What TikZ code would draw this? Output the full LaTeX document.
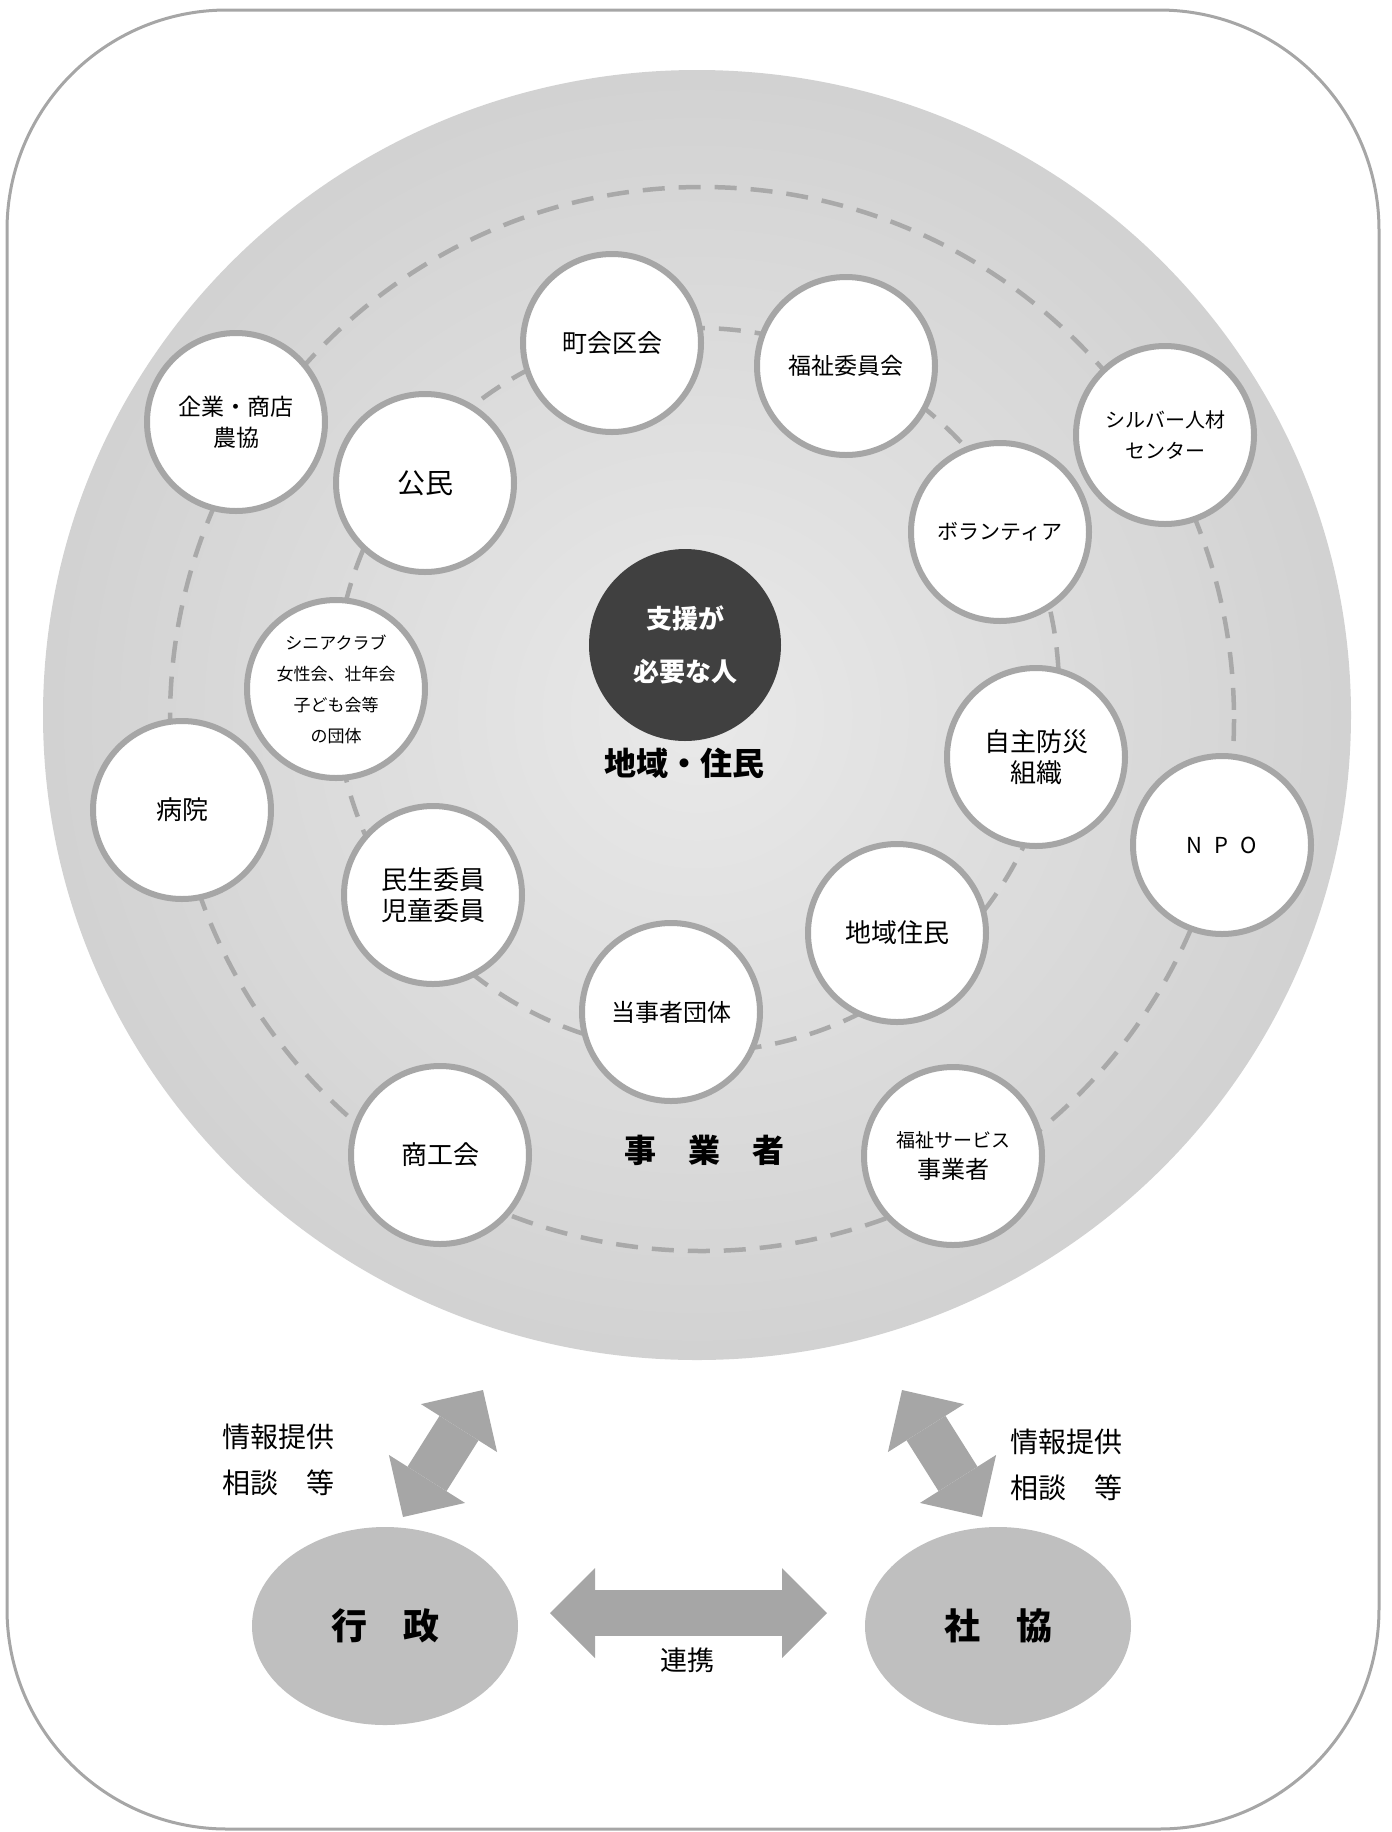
\documentclass[tikz,border=0pt]{standalone}
\usepackage{fontspec}
\setmainfont{Noto Sans CJK JP}
\usepackage{xcolor}
\usepackage{tikz}
\usetikzlibrary{
  arrows.meta,
  shapes.geometric
}
\definecolor{ringgray}{HTML}{A6A6A6}
\definecolor{dashgray}{HTML}{A9A9A9}
\definecolor{blobgray}{HTML}{BFBFBF}
\definecolor{coregray}{HTML}{404040}
\definecolor{glowin}{HTML}{E9E9E9}
\definecolor{glowmid}{HTML}{CFCFCF}
\definecolor{glowout}{HTML}{BEBEBE}
\pgfdeclareradialshading{glow}{\pgfpoint{0bp}{0bp}}{color(0bp)=(glowin); color(28bp)=(glowmid); color(50bp)=(glowout); color(100bp)=(glowout)}
\newcommand{\fs}[2]{\fontsize{#1}{#2}\selectfont}
\tikzset{
  member/.style={circle,draw=ringgray,line width=6pt,fill=white,minimum size=178pt,inner sep=0pt,align=center,font=\fs{25}{31}},
  orbit/.style={draw=dashgray,line width=4.5pt,dash pattern=on 22pt off 14pt},
  agency/.style={ellipse,fill=blobgray,minimum width=266pt,minimum height=198pt,inner sep=0pt,font=\bfseries\fs{36}{40}},
  fatarrow/.style={draw=ringgray,line width=46pt,{Triangle[length=45pt,width=90pt,line width=0pt]}-{Triangle[length=45pt,width=90pt,line width=0pt]}},
  note/.style={align=left,inner sep=0pt,font=\fs{28}{46}}
}

\begin{document}
\begin{tikzpicture}[x=1pt,y=-1pt]
    \useasboundingbox (0,0) rectangle (1392,1832);
    \draw[ringgray,line width=3pt,rounded corners=220pt] (7,10) rectangle (1379,1829);

    % community disc
    \shade[shading=glow] (697,715) ellipse [x radius=654, y radius=645];
    \draw[orbit] (702,719) circle [radius=532];
    \draw[orbit] (697,690) circle [radius=362];

    \foreach \x/\y/\sz/\txt/\id in {612/343/25/{町会区会}/chokai,846/366/23/{福祉委員会}/iinkai,236/422/23/{企業・商店\\農協}/kigyo,425/483/28/{公民}/komin,1165/435/20/{シルバー人材\\センター}/silver,1000/532/21/{ボランティア}/volunteer,336/689/17/{シニアクラブ\\女性会、壮年会\\子ども会等\\の団体}/dantai,1036/757/26/{自主防災\\組織}/bosai,182/810/26/{病院}/byoin,433/895/26/{民生委員\\児童委員}/minsei,897/933/26/{地域住民}/jumin,671/1012/24/{当事者団体}/tojisha,440/1155/26/{商工会}/shokokai}
        \node[member,font=\fs{\sz}{31}] (\id) at (\x,\y) {\txt};
    \node[member,font=\fs{22}{31}] (npo) at (1222,845) {N\hspace{12pt}P\hspace{12pt}O};
    \node[member] (service) at (953,1156) {\fs{19}{31}福祉サービス\\\fs{24}{31}事業者};

    \node[circle,fill=coregray,minimum size=192pt,inner sep=0pt,align=center,text=white,font=\bfseries\fs{26}{53}] (needy) at (685,645) {支援が\\必要な人};
    \node[font=\bfseries\fs{32}{36}] (area) at (684,763) {地域・住民};
    \node[font=\bfseries\fs{32}{36}] (biz) at (704,1150) {事　業　者};

    % bottom
    \node[agency] (gyosei) at (385,1626) {行　政};
    \node[agency] (shakyo) at (998,1626) {社　協};
    \coordinate (lfoot) at (403,1517);
    \coordinate (lhead) at (483,1390);
    \coordinate (rhead) at (902,1390);
    \coordinate (rfoot) at (982,1517);
    \coordinate (linkL) at (550,1613);
    \coordinate (linkR) at (827,1613);
    \draw[fatarrow] (lfoot) -- (lhead);
    \draw[fatarrow] (rfoot) -- (rhead);
    \draw[fatarrow] (linkL) -- (linkR);
    \node[font=\fs{27}{30}] (renkei) at (687,1660) {連携};
    \node[note,anchor=west] (infoL) at (222,1460) {情報提供\\相談　等};
    \node[note,anchor=west] (infoR) at (1010,1465) {情報提供\\相談　等};
\end{tikzpicture}
\end{document}
